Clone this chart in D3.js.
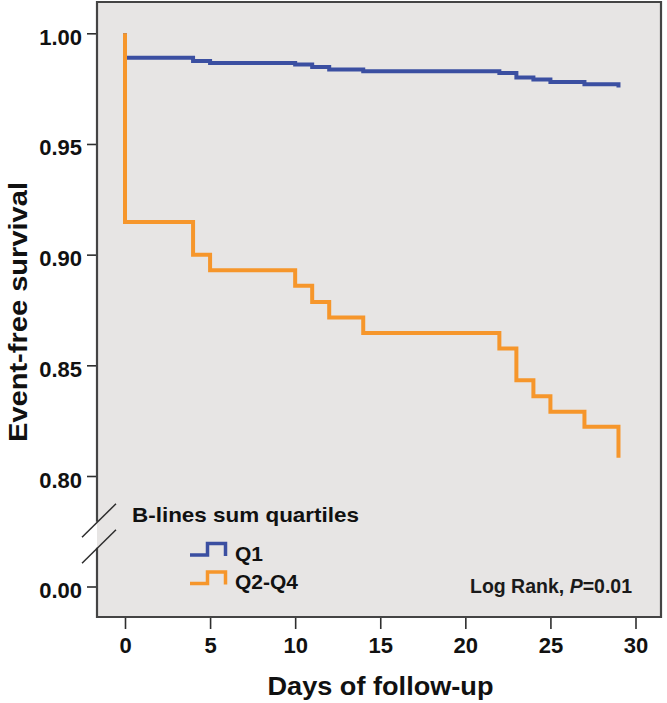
<!DOCTYPE html>
<html>
<head>
<meta charset="utf-8">
<script src="https://cdn.jsdelivr.net/npm/d3@7"></script>
<style>
  body { margin: 0; background: #fff; }
  svg { display: block; font-family: "Liberation Sans", Arial, sans-serif; }
</style>
</head>
<body>
<svg id="chart" width="667" height="703"></svg>
<script>
// Kaplan-Meier steps (day, survival after the step)
const q1Days = [0, 0, 4, 5, 10, 11, 12, 14, 22, 23, 24, 25, 27, 29];
const q1Surv = [1.0, 0.989, 0.9875, 0.9866, 0.9859, 0.9848, 0.9837, 0.9828, 0.9821, 0.980, 0.9791, 0.978, 0.977, 0.9755];
const q24Days = [0, 0, 4, 5, 10, 11, 12, 14, 22, 23, 24, 25, 27, 29];
const q24Surv = [1.0, 0.9148, 0.900, 0.893, 0.8859, 0.8786, 0.8716, 0.8646, 0.8576, 0.8433, 0.836, 0.829, 0.8222, 0.8082];

const groups = ["Q1", "Q2-Q4"];
const groupColors = ["#3b4fa1", "#f6962b"];
const xTicks = [0, 5, 10, 15, 20, 25, 30];
const yTicks = [0, 0.80, 0.85, 0.90, 0.95, 1.00];

const svg = d3.select("#chart");
const box = { left: 97, top: 2, right: 661, bottom: 617 };
const ink = "#2e2e2e";

const x = d3.scaleLinear().domain([0, 30]).range([125, 635.5]);
// broken axis: 0.00 then a jump up to 0.80-1.00
const y = d3.scaleLinear().domain([0, 0.80, 1.00]).range([586.5, 476, 33.3]);

// plot background
svg.append("rect")
  .attr("x", box.left).attr("y", box.top)
  .attr("width", box.right - box.left).attr("height", box.bottom - box.top)
  .attr("fill", "#e7e5e4");

// x axis
const xAxis = d3.axisBottom(x).tickValues(xTicks).tickSize(12).tickPadding(8);
const xg = svg.append("g").attr("transform", `translate(0,${box.bottom})`).call(xAxis);
xg.select(".domain").remove();
xg.selectAll("line").attr("stroke", ink).attr("stroke-width", 1.6);
xg.selectAll("text")
  .attr("fill", "#111").attr("font-size", 22).attr("font-weight", "bold");

// y axis
const yAxis = d3.axisLeft(y).tickValues(yTicks).tickSize(10).tickPadding(5)
  .tickFormat(d3.format(".2f"));
const yg = svg.append("g").attr("transform", `translate(${box.left},0)`).call(yAxis);
yg.select(".domain").remove();
yg.selectAll("line").attr("stroke", ink).attr("stroke-width", 1.6);
yg.selectAll("text")
  .attr("fill", "#111").attr("font-size", 22).attr("font-weight", "bold")
  .attr("dy", "0.5em");

// frame, with a gap in the left side for the axis break
const breakY = (y(0) + y(0.80)) / 2 + 3.5;
const gap = 13;
const frame = d3.path();
frame.moveTo(box.left, breakY - gap);
frame.lineTo(box.left, box.top);
frame.lineTo(box.right, box.top);
frame.lineTo(box.right, box.bottom);
frame.lineTo(box.left, box.bottom);
frame.lineTo(box.left, breakY + gap);
svg.append("path").attr("d", frame.toString())
  .attr("fill", "none").attr("stroke", "#444").attr("stroke-width", 2.2);

[-gap, gap].forEach(off => {
  const cy = breakY + off;
  svg.append("line")
    .attr("x1", box.left - 15).attr("y1", cy + 15.5)
    .attr("x2", box.left + 19).attr("y2", cy - 18)
    .attr("stroke", ink).attr("stroke-width", 1.5);
});

// survival curves
const line = d3.line()
  .x(d => x(d[0]))
  .y(d => y(d[1]))
  .curve(d3.curveStepAfter);

const series = [d3.zip(q1Days, q1Surv), d3.zip(q24Days, q24Surv)];
series.forEach((pts, i) => {
  svg.append("path")
    .datum(pts)
    .attr("d", line)
    .attr("fill", "none")
    .attr("stroke", groupColors[i])
    .attr("stroke-width", 4)
    .attr("stroke-linejoin", "miter");
});

// legend
svg.append("text")
  .attr("x", 132).attr("y", 522)
  .attr("font-size", 20.5).attr("font-weight", "bold").attr("fill", "#111")
  .attr("textLength", 227).attr("lengthAdjust", "spacingAndGlyphs")
  .text("B-lines sum quartiles");

groups.forEach((g, i) => {
  const base = 555 + i * 28.5;
  const sym = d3.path();
  sym.moveTo(190, base);
  sym.lineTo(207.5, base);
  sym.lineTo(207.5, base - 11.5);
  sym.lineTo(225.5, base - 11.5);
  sym.lineTo(225.5, base + 1);
  svg.append("path").attr("d", sym.toString())
    .attr("fill", "none").attr("stroke", groupColors[i]).attr("stroke-width", 3.5);
  svg.append("text")
    .attr("x", 235).attr("y", base + 5.5)
    .attr("font-size", 21).attr("font-weight", "bold").attr("fill", "#111")
    .text(g);
});

// log rank note
const note = svg.append("text")
  .attr("x", 632).attr("y", 593).attr("text-anchor", "end")
  .attr("font-size", 19.5).attr("font-weight", "bold").attr("fill", "#1a1a1a");
note.append("tspan").text("Log Rank, ");
note.append("tspan").attr("font-style", "italic").text("P");
note.append("tspan").text("=0.01");

// axis titles
svg.append("text")
  .attr("x", 380.5).attr("y", 695).attr("text-anchor", "middle")
  .attr("font-size", 26).attr("font-weight", "bold").attr("fill", "#111")
  .attr("textLength", 226).attr("lengthAdjust", "spacingAndGlyphs")
  .text("Days of follow-up");

svg.append("text")
  .attr("transform", "translate(27,312) rotate(-90)")
  .attr("text-anchor", "middle")
  .attr("font-size", 25).attr("font-weight", "bold").attr("fill", "#111")
  .attr("textLength", 260).attr("lengthAdjust", "spacingAndGlyphs")
  .text("Event-free survival");
</script>
</body>
</html>
